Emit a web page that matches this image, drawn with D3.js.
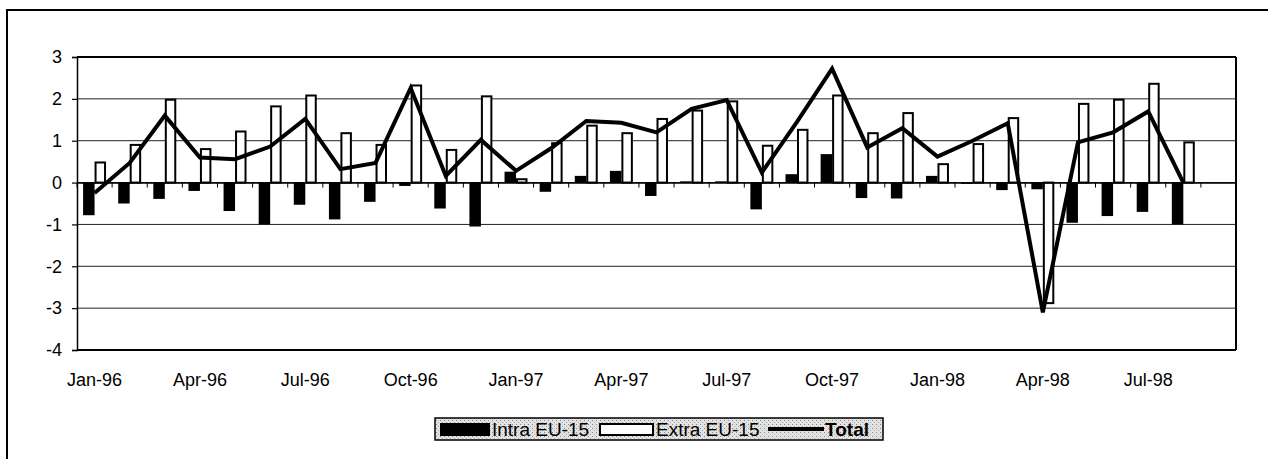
<!DOCTYPE html>
<html><head><meta charset="utf-8">
<script src="https://cdn.jsdelivr.net/npm/d3@7"></script>
<style>body{margin:0;background:#fff}svg{display:block}</style>
</head><body><svg id="c" width="1268" height="459"></svg>
<script>
const months = ["Jan-96","Feb-96","Mar-96","Apr-96","May-96","Jun-96","Jul-96","Aug-96","Sep-96","Oct-96","Nov-96","Dec-96",
  "Jan-97","Feb-97","Mar-97","Apr-97","May-97","Jun-97","Jul-97","Aug-97","Sep-97","Oct-97","Nov-97","Dec-97",
  "Jan-98","Feb-98","Mar-98","Apr-98","May-98","Jun-98","Jul-98","Aug-98","Sep-98"];
const tickLabels = ["Jan-96","Apr-96","Jul-96","Oct-96","Jan-97","Apr-97","Jul-97","Oct-97","Jan-98","Apr-98","Jul-98"];
const intra = [-0.78,-0.5,-0.39,-0.2,-0.68,-1.0,-0.53,-0.88,-0.46,-0.08,-0.62,-1.05,
  0.26,-0.22,0.16,0.28,-0.32,0.03,0.03,-0.64,0.2,0.68,-0.37,-0.38,
  0.16,-0.03,-0.18,-0.16,-0.96,-0.8,-0.7,-1.0];
const extra = [0.48,0.9,1.98,0.8,1.22,1.82,2.08,1.18,0.9,2.32,0.78,2.06,
  0.08,0.94,1.36,1.18,1.52,1.72,1.94,0.88,1.26,2.08,1.18,1.66,
  0.44,0.92,1.54,-2.88,1.88,1.98,2.36,0.96];
const total = [-0.25,0.47,1.6,0.6,0.56,0.86,1.52,0.32,0.47,2.26,0.16,1.02,
  0.28,0.82,1.47,1.43,1.2,1.76,1.97,0.24,1.45,2.72,0.84,1.3,
  0.62,1.0,1.42,-3.1,0.96,1.2,1.7,0.0];
const yTicks = [3,2,1,0,-1,-2,-3,-4];
const seriesNames = ["Intra EU-15","Extra EU-15","Total"];

const svg = d3.select("#c");
const FONT = "'Liberation Sans', Arial, sans-serif";
const L = 77, R = 1236, T = 57, B = 350;

const x = d3.scaleBand().domain(months).range([L, R]).paddingInner(0).paddingOuter(0);
const xs = d3.scaleBand().domain(["intra","extra"]).range([0, x.bandwidth()]).paddingInner(0).paddingOuter(0.53);
const y = d3.scaleLinear().domain([-4, 3]).range([B, T]);

// outer frame
svg.append("path").attr("d", "M7,459 L7,10 L1268,10").attr("fill","none").attr("stroke","#000").attr("stroke-width",2);

// gridlines
const g = svg.append("g");
g.selectAll("line.grid").data(yTicks).join("line")
  .attr("x1", L).attr("x2", R).attr("y1", d => y(d)).attr("y2", d => y(d))
  .attr("stroke", d => (d === 3 || d === -4) ? "#000" : "#222")
  .attr("stroke-width", d => (d === 3 || d === -4) ? 2 : 1);
g.append("line").attr("x1", R).attr("x2", R).attr("y1", T).attr("y2", B).attr("stroke","#000").attr("stroke-width",2);

// y axis
const yAxis = svg.append("g").attr("transform", `translate(${L},0)`)
  .call(d3.axisLeft(y).tickValues(yTicks).tickSize(5).tickPadding(10).tickFormat(d => String(d)));
yAxis.select(".domain").attr("stroke","#000").attr("stroke-width",1.5);
yAxis.selectAll(".tick line").attr("stroke","#000").attr("stroke-width",1.2);
yAxis.selectAll("text").attr("font-family", FONT).attr("font-size", 18).attr("fill","#000");

const idx = d3.range(intra.length);

// bars intra
svg.append("g").selectAll("rect").data(idx).join("rect")
  .attr("x", i => x(months[i]) + xs("intra"))
  .attr("width", xs.bandwidth())
  .attr("y", i => Math.min(y(intra[i]), y(0)))
  .attr("height", i => Math.abs(y(intra[i]) - y(0)))
  .attr("fill", "#000");

// bars extra
svg.append("g").selectAll("rect").data(idx).join("rect")
  .attr("x", i => x(months[i]) + xs("extra") + 1)
  .attr("width", xs.bandwidth() - 2)
  .attr("y", i => Math.min(y(extra[i]), y(0)))
  .attr("height", i => Math.abs(y(extra[i]) - y(0)))
  .attr("fill", "#fff").attr("stroke", "#000").attr("stroke-width", 2);

// x axis at zero
const xAxis = svg.append("g").attr("transform", `translate(0,${y(0)})`)
  .call(d3.axisBottom(x).tickValues([]).tickSize(0));
xAxis.select(".domain").attr("stroke","#000").attr("stroke-width",1.5);
svg.append("g").selectAll("line").data(months.concat(["end"])).join("line")
  .attr("x1", (d,i) => L + i * x.step()).attr("x2", (d,i) => L + i * x.step())
  .attr("y1", y(0)).attr("y2", y(0) + 5).attr("stroke","#000").attr("stroke-width",1);

// x labels at bottom
svg.append("g").selectAll("text").data(tickLabels).join("text")
  .attr("x", d => x(d) + x.bandwidth()/2).attr("y", 386)
  .attr("text-anchor","middle").attr("font-family", FONT).attr("font-size", 18).attr("fill","#000")
  .text(d => d);

// total line
const line = d3.line().x(i => x(months[i]) + x.bandwidth()/2).y(i => y(total[i]));
svg.append("path").datum(idx).attr("d", line)
  .attr("fill","none").attr("stroke","#000").attr("stroke-width",4).attr("stroke-linejoin","miter");

// legend
const defs = svg.append("defs");
const pat = defs.append("pattern").attr("id","stip").attr("width",4).attr("height",4).attr("patternUnits","userSpaceOnUse");
pat.append("rect").attr("width",4).attr("height",4).attr("fill","#e2e2e2");
pat.append("rect").attr("x",0).attr("y",0).attr("width",1).attr("height",1).attr("fill","#888");
pat.append("rect").attr("x",2).attr("y",2).attr("width",1).attr("height",1).attr("fill","#aaa");

const lg = svg.append("g");
lg.append("rect").attr("x",435).attr("y",418).attr("width",448).attr("height",22)
  .attr("fill","url(#stip)").attr("stroke","#000").attr("stroke-width",1.5);
lg.append("rect").attr("x",440).attr("y",423).attr("width",50).attr("height",13).attr("fill","#000");
lg.append("text").attr("x",492).attr("y",436).attr("font-family",FONT).attr("font-size",19).text(seriesNames[0]);
lg.append("rect").attr("x",600).attr("y",424).attr("width",53).attr("height",11).attr("fill","#fff").attr("stroke","#000").attr("stroke-width",2);
lg.append("text").attr("x",656).attr("y",436).attr("font-family",FONT).attr("font-size",19).text(seriesNames[1]);
lg.append("line").attr("x1",768).attr("x2",824).attr("y1",429).attr("y2",429).attr("stroke","#000").attr("stroke-width",4);
lg.append("text").attr("x",825).attr("y",436).attr("font-family",FONT).attr("font-size",19).attr("font-weight","bold").text(seriesNames[2]);
</script></body></html>
